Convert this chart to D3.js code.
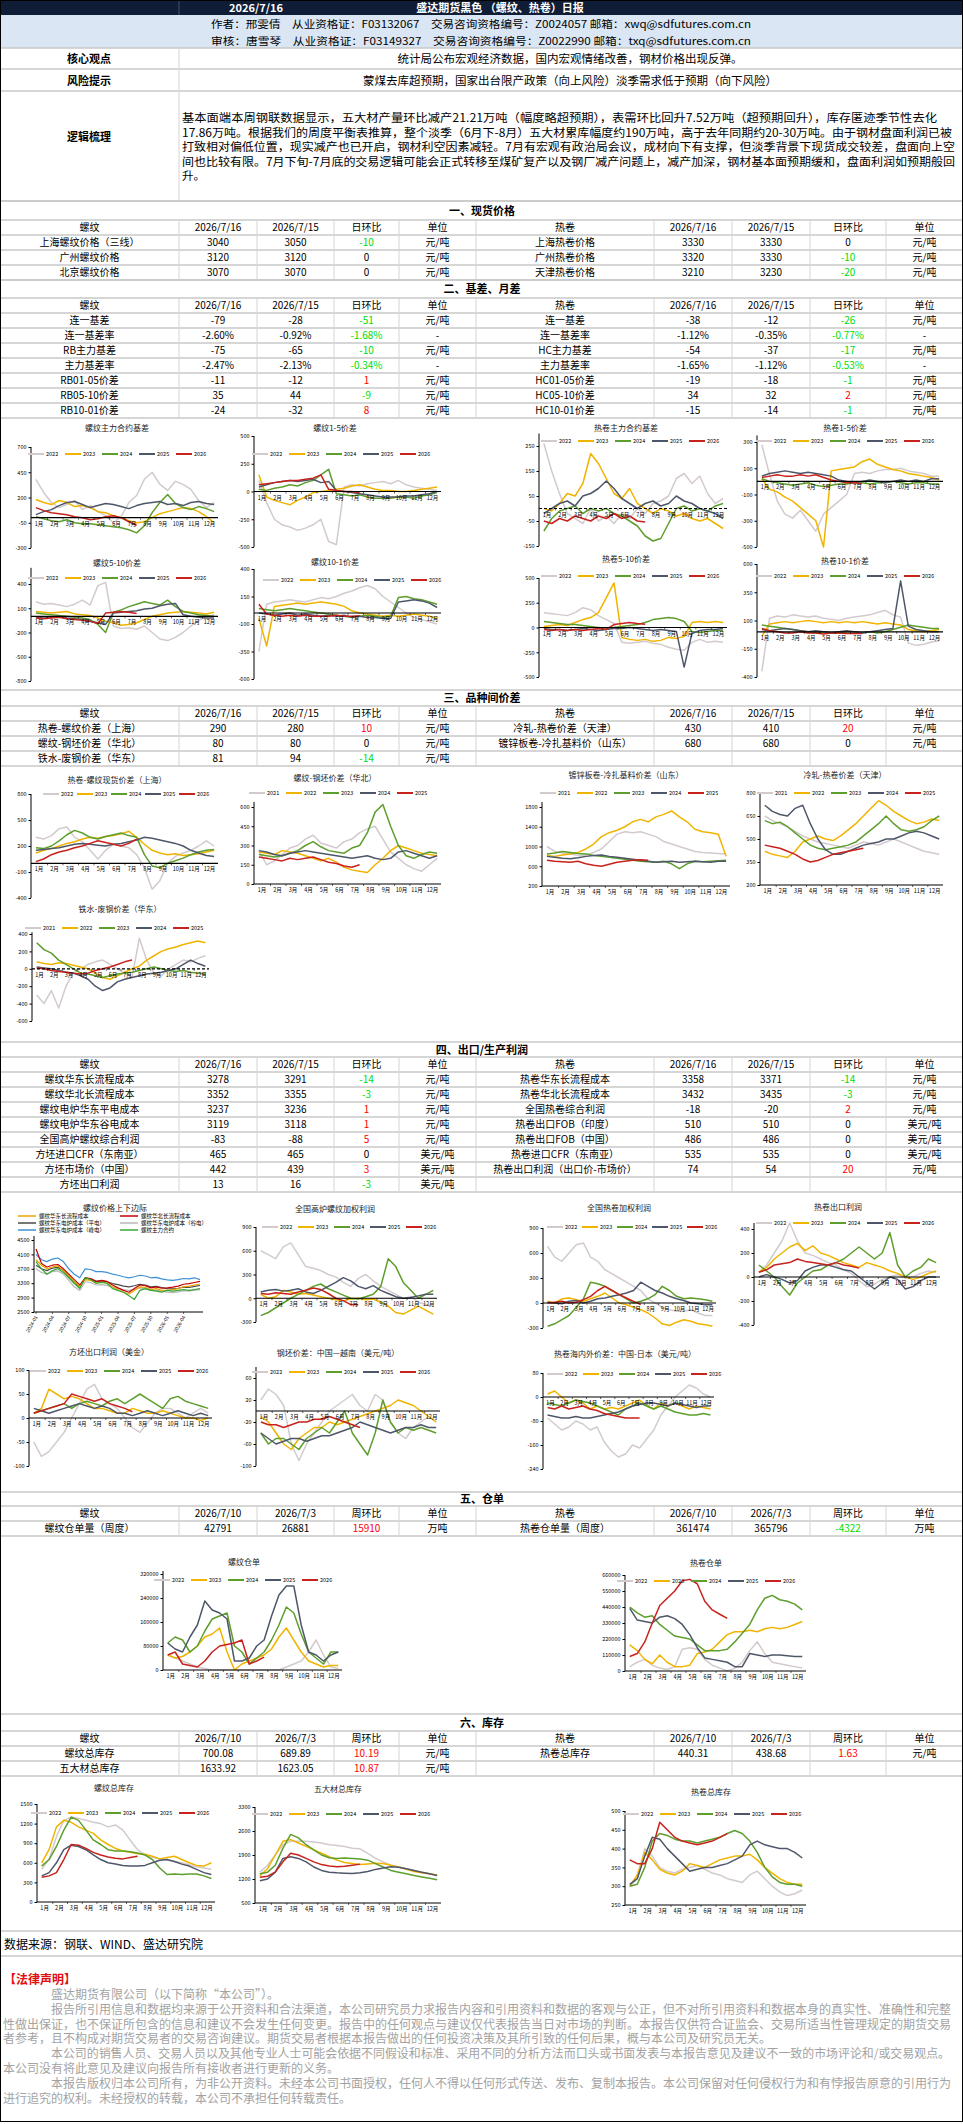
<!DOCTYPE html>
<html>
<head>
<meta charset="utf-8">
<script src="https://cdn.jsdelivr.net/npm/d3@7"></script>
<style>
body{margin:0;background:#fff;}
svg{display:block;}
</style>
</head>
<body>
<svg id="page"></svg>
<script>
const page_w = 963
const page_h = 2124
const col_x = [0,179,257,334,399,476,654,732,810,886,963]
const row_h = 15
const font_main = '"Noto Sans CJK SC","Noto Sans",sans-serif'

const years_a = ["2022","2023","2024","2025","2026"]
const years_b = ["2021","2022","2023","2024","2025"]
const year_colors = ["#d3cace","#f0b400","#5e9e2d","#4e5769","#c8221d"]
const months = ["1月","2月","3月","4月","5月","6月","7月","8月","9月","10月","11月","12月"]

// ---- tables ----
const header_day = ["螺纹","2026/7/16","2026/7/15","日环比","单位","热卷","2026/7/16","2026/7/15","日环比","单位"]
const header_week = ["螺纹","2026/7/10","2026/7/3","周环比","单位","热卷","2026/7/10","2026/7/3","周环比","单位"]
const spot_rows = [
  ["上海螺纹价格（三线）","3040","3050","-10","元/吨","上海热卷价格","3330","3330","0","元/吨"],
  ["广州螺纹价格","3120","3120","0","元/吨","广州热卷价格","3320","3330","-10","元/吨"],
  ["北京螺纹价格","3070","3070","0","元/吨","天津热卷价格","3210","3230","-20","元/吨"]]
const basis_rows = [
  ["连一基差","-79","-28","-51","元/吨","连一基差","-38","-12","-26","元/吨"],
  ["连一基差率","-2.60%","-0.92%","-1.68%","-","连一基差率","-1.12%","-0.35%","-0.77%","-"],
  ["RB主力基差","-75","-65","-10","元/吨","HC主力基差","-54","-37","-17","元/吨"],
  ["主力基差率","-2.47%","-2.13%","-0.34%","-","主力基差率","-1.65%","-1.12%","-0.53%","-"],
  ["RB01-05价差","-11","-12","1","元/吨","HC01-05价差","-19","-18","-1","元/吨"],
  ["RB05-10价差","35","44","-9","元/吨","HC05-10价差","34","32","2","元/吨"],
  ["RB10-01价差","-24","-32","8","元/吨","HC10-01价差","-15","-14","-1","元/吨"]]
const spread_rows = [
  ["热卷-螺纹价差（上海）","290","280","10","元/吨","冷轧-热卷价差（天津）","430","410","20","元/吨"],
  ["螺纹-钢坯价差（华北）","80","80","0","元/吨","镀锌板卷-冷扎基料价（山东）","680","680","0","元/吨"],
  ["铁水-废钢价差（华东）","81","94","-14","元/吨","","","","",""]]
const profit_rows = [
  ["螺纹华东长流程成本","3278","3291","-14","元/吨","热卷华东长流程成本","3358","3371","-14","元/吨"],
  ["螺纹华北长流程成本","3352","3355","-3","元/吨","热卷华北长流程成本","3432","3435","-3","元/吨"],
  ["螺纹电炉华东平电成本","3237","3236","1","元/吨","全国热卷综合利润","-18","-20","2","元/吨"],
  ["螺纹电炉华东谷电成本","3119","3118","1","元/吨","热卷出口FOB（印度）","510","510","0","美元/吨"],
  ["全国高炉螺纹综合利润","-83","-88","5","元/吨","热卷出口FOB（中国）","486","486","0","美元/吨"],
  ["方坯进口CFR（东南亚）","465","465","0","美元/吨","热卷进口CFR（东南亚）","535","535","0","美元/吨"],
  ["方坯市场价（中国）","442","439","3","美元/吨","热卷出口利润（出口价-市场价）","74","54","20","元/吨"],
  ["方坯出口利润","13","16","-3","美元/吨","","","","",""]]
const receipt_rows = [
  ["螺纹仓单量（周度）","42791","26881","15910","万吨","热卷仓单量（周度）","361474","365796","-4322","万吨"]]
const stock_rows = [
  ["螺纹总库存","700.08","689.89","10.19","元/吨","热卷总库存","440.31","438.68","1.63","元/吨"],
  ["五大材总库存","1633.92","1623.05","10.87","元/吨","","","","",""]]

// ---- chart series (half-month points) ----
const rb_basis = [
  [380,250,150,100,130,170,80,120,60,20,-50,10,150,220,380,450,330,270,360,330,280,170,100,150],
  [180,150,130,170,150,110,120,100,60,50,20,0,-30,-50,-40,0,40,60,80,100,90,60,10,-50],
  [10,-10,-30,-40,-20,-50,-60,-60,-70,-80,-90,-100,-120,-150,-80,50,150,230,140,100,80,110,90,60],
  [30,60,80,120,150,160,130,100,120,140,130,110,90,120,140,150,160,130,140,120,150,160,140,130],
  [100,70,50,40,30,10,0,-20,-10,10,20,0,-40,-75]]
const rb_15 = [
  [100,-100,-250,-300,-320,-350,-330,-300,-250,-450,-480,40,60,50,70,80,90,70,100,60,40,30,20,10],
  [150,-50,-80,-100,-120,-80,-50,-10,0,10,20,30,50,60,40,20,10,10,0,0,10,20,30,40],
  [20,10,30,40,60,50,80,100,150,200,-20,-30,-40,-30,-50,-60,-60,-60,-50,-50,-60,-40,-30,-10],
  [40,60,80,90,100,90,100,110,80,90,10,0,-10,-20,-30,-40,-50,-50,-50,-40,-40,-30,-20,0],
  [60,70,80,90,100,100,110,120,150,20,10,0,0,-11]]
const hc_basis = [
  [260,150,60,-20,-40,-60,0,-50,-30,-60,-20,-40,0,-20,20,30,50,120,140,100,130,60,20,40],
  [0,-10,20,60,50,100,220,180,120,60,40,80,20,0,-20,0,-10,-30,-20,-40,-50,-40,-60,-80],
  [-90,-40,-10,0,10,-20,0,-10,0,-20,-30,-50,-70,-110,-130,-120,-60,0,10,-10,0,-10,10,20],
  [-20,0,20,30,10,50,60,80,110,80,40,20,0,20,30,10,20,50,30,20,0,-10,-20,-40],
  [-50,-60,-40,-50,-30,-40,-50,-30,-40,-20,-40,-30,-50,-54]]
const hc_15 = [
  [280,50,-150,-250,-280,-220,-300,-380,-250,-200,-150,-100,60,70,60,80,90,90,100,80,70,60,40,40],
  [20,-60,-80,-120,-150,-200,-250,-300,-500,80,90,100,110,150,170,130,110,90,80,60,50,40,30,10],
  [20,0,-10,-20,-30,-20,-10,-30,-40,-30,-20,-20,-10,-10,-20,-10,-10,0,-10,-20,-10,-10,-20,-20],
  [40,60,70,80,70,60,70,60,50,40,10,0,-10,0,10,0,-10,0,10,0,10,0,20,20],
  [30,40,50,40,40,50,40,50,30,10,0,-10,-10,-19]]
const rb_510 = [
  [180,150,160,140,120,150,200,140,380,420,-120,-150,-140,-160,-120,-200,-280,-300,-260,-200,-120,-50,-10,20],
  [60,50,40,50,60,30,20,10,-20,-60,-80,-110,-100,-80,-40,0,20,40,50,60,50,40,30,50],
  [40,30,20,10,0,-10,-20,-40,-100,-200,50,80,120,150,180,160,140,200,120,60,40,20,10,0],
  [-10,-20,-10,0,-20,-30,-40,-60,-80,-100,40,50,60,70,90,100,130,150,160,20,0,-10,-20,-20],
  [-20,-30,-20,-10,-30,-40,-50,-60,-90,40,50,60,50,35]]
const rb_101 = [
  [-350,80,100,110,120,110,100,120,140,130,150,180,200,230,250,220,150,100,50,0,-40,-60,-80,-100],
  [-50,-300,60,70,80,90,80,90,100,90,80,60,20,0,-10,-20,-30,-20,-30,-20,-10,-20,-30,-50],
  [40,30,20,30,40,30,20,10,0,-10,-20,-30,-40,-30,-20,-30,-40,-30,140,150,130,120,100,80],
  [0,-10,-20,-10,0,-20,-10,-20,-30,-20,-30,-20,-40,-30,-40,-40,-50,-50,100,110,120,110,90,50],
  [80,-10,-20,-30,-20,-30,-20,-30,-30,-30,-20,-30,-30,-24]]
const hc_510 = [
  [150,140,130,120,150,200,180,120,80,40,-150,-160,-150,-140,-160,-170,-200,-220,-230,-150,-120,-150,-140,-150],
  [10,20,30,20,50,80,100,150,300,450,-100,-120,-130,-120,-140,-130,-100,-110,-90,50,60,50,60,50],
  [60,50,40,30,30,20,10,0,-10,0,10,20,30,50,80,90,100,90,60,-40,-50,-40,-30,-30],
  [-10,-20,-20,-30,-20,-10,-20,-30,-20,-10,-10,0,-10,-20,-30,-20,-30,-40,-400,-60,-30,-20,-20,-10],
  [-20,-30,-20,-30,-20,-30,-20,-10,-20,30,40,50,40,34]]
const hc_101 = [
  [-350,120,140,130,150,140,130,140,120,110,100,120,130,140,150,170,190,150,130,-100,-120,-110,-90,-80],
  [-40,70,80,90,80,90,100,90,80,90,80,90,80,90,80,70,80,70,60,20,10,0,10,20],
  [60,50,40,30,20,10,0,-10,0,-10,-10,0,0,-10,0,-10,0,20,40,60,50,40,30,30],
  [20,10,20,30,20,10,0,10,0,-10,0,10,0,-10,0,10,20,30,450,50,20,10,0,0],
  [30,10,0,-10,-10,0,-10,-10,-20,-10,-10,-15,-15,-15]]

const hc_rb_spot = [
  [300,280,320,400,420,300,250,150,50,150,220,200,180,100,-50,-300,-200,0,80,120,150,200,260,200],
  [120,150,170,200,230,250,280,300,290,310,320,340,370,300,220,150,120,100,110,90,100,110,130,150],
  [180,170,200,260,330,380,350,300,280,310,330,350,320,300,100,-30,-50,0,30,60,100,130,150,160],
  [150,160,170,180,200,220,230,220,210,200,220,230,250,270,300,290,270,250,230,200,150,120,90,80],
  [20,50,100,130,150,180,200,230,260,240,220,200,230,280]]
const rb_billet = [
  [260,150,180,230,280,300,350,380,320,300,280,330,350,400,430,450,350,250,200,150,120,100,150,200],
  [250,240,230,260,250,240,220,200,180,200,170,130,110,100,90,150,200,260,300,280,260,240,230,220],
  [230,220,210,220,240,260,300,330,290,260,250,240,280,300,400,560,620,450,300,220,200,230,250,240],
  [260,250,230,220,240,250,260,250,240,230,220,210,200,210,220,200,190,200,250,260,240,220,200,220],
  [210,200,190,180,200,190,200,210,190,170,160,140,130,150]]
const galv_spread = [
  [1000,900,870,850,820,830,880,950,1100,1250,1300,1280,1300,1250,1200,1100,1050,1000,950,900,880,870,860,850],
  [820,800,830,850,880,950,1050,1200,1280,1330,1400,1500,1550,1500,1600,1650,1720,1600,1500,1350,1300,1280,1250,800],
  [850,870,900,880,860,850,820,800,780,760,740,720,700,690,680,700,650,550,650,700,690,700,710,720],
  [800,780,760,750,770,800,820,830,800,780,760,740,720,700,680,690,700,680,690,700,690,680,700,700],
  [720,700,690,680,700,650,620,600,640,680,700,720,730,720]]
const cr_hc = [
  [650,620,600,580,550,520,500,480,470,460,450,440,460,480,470,460,480,500,480,460,440,420,410,400],
  [420,400,390,380,420,480,500,520,500,490,520,560,600,650,700,750,720,680,650,620,600,610,630,620],
  [620,600,610,580,540,500,460,440,430,440,450,460,480,520,560,600,650,600,560,550,560,580,620,650],
  [720,680,660,650,700,720,600,500,430,400,400,420,440,460,470,480,500,500,520,540,550,540,520,500],
  [460,450,440,420,400,370,350,360,380,400,410,420,430,440]]
const iron_scrap = [
  [-300,-400,-250,-450,-200,-50,0,50,80,100,50,0,-50,-100,350,100,-50,-80,0,50,100,80,120,150],
  [80,60,50,70,60,40,20,0,-50,-100,-120,-80,-40,0,30,100,150,200,230,250,280,300,320,300],
  [300,220,180,100,50,0,-50,-60,-80,-100,-80,-60,-50,-40,-20,0,20,0,-20,-30,-20,-40,-50,-60],
  [20,10,0,-20,-40,-50,-80,-120,-200,-250,-220,-150,-120,-100,-80,-60,-50,-40,-20,0,50,100,60,30],
  [10,0,-20,-30,-40,-50,-60,-50,-20,0,20,50,80,100]]

// monthly, 2024-01 .. 2026-07
const cost_dates = ["2024-01","2024-04","2024-07","2024-10","2025-01","2025-04","2025-07","2025-10","2026-01","2026-04"]
const cost_east_bf = [3950,3800,3700,3750,3780,3650,3500,3350,3200,3400,3380,3300,3330,3300,3200,3120,3050,3000,3100,3200,3180,3120,3150,3100,3100,3120,3150,3200,3220,3250,3278]
const cost_north_bf = [4250,3850,3750,3800,3820,3700,3550,3400,3250,3450,3430,3350,3380,3350,3250,3170,3100,3050,3150,3250,3230,3170,3200,3160,3170,3190,3220,3270,3290,3320,3352]
const eaf_flat = [3800,3700,3650,3720,3740,3650,3480,3300,3200,3440,3420,3350,3360,3340,3290,3260,3220,3200,3230,3270,3250,3200,3210,3180,3150,3140,3160,3190,3180,3210,3237]
const eaf_valley = [3700,3600,3550,3620,3640,3550,3380,3200,3100,3340,3320,3250,3260,3240,3190,3160,3120,3100,3130,3170,3150,3100,3110,3080,3050,3040,3060,3090,3080,3110,3119]
const eaf_peak = [4100,3950,3900,3970,4000,3900,3700,3550,3450,3700,3680,3620,3620,3600,3550,3520,3480,3450,3480,3520,3500,3450,3460,3420,3390,3380,3400,3430,3420,3450,3400]
const rb_main = [3900,3700,3550,3650,3700,3600,3450,3300,3150,3450,3400,3300,3320,3300,3150,3100,3050,2950,2850,3100,3150,3100,3080,3050,3100,3080,3100,3120,3100,3120,3150]
const cost_names = ["螺纹华东长流程成本","螺纹华北长流程成本","螺纹华东电炉成本（平电）","螺纹华东电炉成本（谷电）","螺纹华东电炉成本（峰电）","螺纹主力合约"]
const cost_colors = ["#e8a400","#c40000","#4a4a4a","#b8b8b8","#3d8fd6","#35a835"]

const bf_profit = [
  [600,550,500,650,700,550,400,380,350,300,270,200,150,250,300,220,150,100,50,0,20,-50,-80,-100],
  [50,0,20,100,80,50,60,40,20,0,-20,-30,-10,0,-20,-10,-50,-100,-180,-200,-150,-100,-150,-200],
  [-220,-180,-120,-60,0,50,100,150,180,120,80,40,0,-10,20,50,150,500,400,200,100,0,50,100],
  [80,100,110,90,100,120,80,60,100,150,200,260,220,150,120,160,100,60,20,0,10,30,50,50],
  [60,50,70,60,50,80,100,130,110,60,0,-30,-80,-83]]
const hc_profit = [
  [680,550,500,600,700,720,550,500,400,350,300,250,200,150,50,0,-50,-80,-100,-100,-80,-120,-150,-150],
  [20,0,50,60,40,20,50,80,120,60,0,-20,-50,-80,-120,-180,-250,-270,-230,-200,-220,-250,-260,-280],
  [-280,-250,-200,-150,-50,50,250,230,200,150,100,50,0,20,50,100,200,150,80,50,60,50,40,20],
  [10,0,-10,20,30,0,20,50,60,80,100,120,150,250,200,150,120,80,50,30,0,-10,-20,-20],
  [0,10,20,0,10,40,80,150,200,150,100,60,20,-18]]
const hc_export = [
  [40,100,200,300,450,300,200,180,150,120,100,60,30,-30,-80,-60,-20,0,20,-10,0,30,50,40],
  [40,80,150,200,250,280,220,260,200,180,150,120,100,80,120,100,80,50,30,0,-20,0,30,50],
  [100,50,0,-80,-150,-50,0,50,60,100,120,150,200,250,200,150,200,370,100,0,50,80,150,120],
  [0,20,0,-20,-50,-30,50,80,100,100,80,60,50,0,-50,-100,-50,0,-20,-100,-80,-30,0,0],
  [40,60,100,110,120,150,130,120,110,100,120,100,90,74]]
const billet_export = [
  [-50,-80,-70,-50,-30,0,30,60,70,40,30,20,0,-20,-30,-10,10,20,20,10,0,10,20,10],
  [10,20,60,50,40,45,40,30,20,20,15,10,10,20,15,10,10,15,10,5,0,0,-5,0],
  [10,15,20,25,30,20,30,35,30,25,35,40,30,40,50,40,30,20,40,45,35,30,25,20],
  [20,15,10,15,20,25,30,25,20,25,20,10,10,5,10,15,10,5,10,15,10,5,10,5],
  [10,15,20,25,30,50,45,40,35,40,30,25,20,13]]
const billet_cn_vn = [
  [20,40,30,10,-60,-90,-60,-40,-20,0,10,20,30,10,0,30,20,-20,-40,-50,-30,-20,-10,-20],
  [-10,-20,-40,-60,-70,-50,-40,-30,-30,-20,-25,-20,-15,-10,-5,0,5,10,20,15,10,0,-10,-20],
  [-40,-60,-50,-50,-60,-70,-50,-40,-30,-40,-20,0,-40,-60,-80,-40,20,-20,-40,-30,-35,-30,-35,-40],
  [-40,-50,-60,-55,-50,-50,-55,-50,-45,-45,-40,-35,-30,-20,-25,-30,-35,-40,-35,-30,-30,-25,-30,-30],
  [-20,-25,-25,-30,-25,-20,-20,-15,-15,-10,-15,-20,-25,-30]]
const hc_cn_jp = [
  [-70,-90,-110,-100,-80,-90,-110,-100,-150,-180,-200,-190,-160,-170,-140,-110,-60,-30,0,20,40,30,10,0],
  [10,20,0,-20,-10,-20,-40,-30,-40,-35,-40,-30,-20,-10,-30,-40,-20,-30,-20,-30,-40,-30,-35,-40],
  [-20,-25,-30,-20,-10,-15,-20,-30,-40,-50,-60,-40,-30,-20,-30,-40,-30,-40,-50,-55,-60,-60,-55,-60],
  [-60,-65,-70,-70,-65,-70,-70,-65,-60,-55,-50,-40,-30,-25,-20,-20,-25,-30,-20,-25,-30,-35,-30,-30],
  [-35,-40,-30,-40,-35,-30,-40,-45,-55,-60,-65,-70,-70,-70]]

const rb_receipt = [
  [50000,40000,30000,20000,10000,5000,0,0,0,0,0,0,0,0,0,0,10000,20000,30000,60000,100000,50000,10000,5000],
  [50000,40000,45000,60000,80000,110000,120000,140000,60000,0,20000,30000,40000,50000,70000,110000,140000,100000,60000,30000,20000,10000,15000,15000],
  [90000,110000,100000,60000,80000,130000,170000,180000,190000,80000,60000,20000,40000,60000,100000,150000,210000,190000,120000,60000,40000,20000,60000,60000],
  [90000,70000,60000,110000,150000,230000,200000,190000,170000,30000,30000,40000,80000,100000,180000,250000,280000,280000,150000,60000,50000,30000,50000,60000],
  [50000,60000,20000,15000,10000,30000,60000,80000,85000,90000,100000,20000,30000,42791]]
const hc_receipt = [
  [30000,60000,80000,40000,20000,10000,30000,150000,160000,150000,80000,40000,20000,0,20000,60000,140000,200000,120000,60000,50000,40000,30000,20000],
  [180000,140000,80000,50000,110000,60000,30000,30000,40000,120000,130000,150000,200000,250000,270000,270000,280000,270000,290000,300000,290000,300000,320000,340000],
  [440000,400000,370000,380000,320000,280000,240000,230000,220000,180000,140000,140000,140000,150000,200000,260000,320000,420000,500000,520000,490000,480000,460000,420000],
  [430000,350000,340000,330000,370000,380000,360000,320000,250000,160000,90000,80000,70000,60000,30000,30000,120000,110000,100000,110000,110000,105000,100000,100000],
  [100000,120000,200000,330000,450000,500000,550000,620000,630000,600000,480000,420000,390000,361474]]

const rb_stock = [
  [500,650,1000,1250,1300,1280,1250,1220,1200,1150,1180,1100,950,800,720,680,660,640,620,600,570,540,520,500],
  [600,800,1150,1250,1220,1150,1100,1050,950,880,820,780,760,740,730,700,660,680,700,650,600,560,550,600],
  [550,650,850,1100,1300,1250,1100,950,880,800,780,780,770,750,720,650,520,420,430,420,430,430,400,360],
  [400,450,600,800,870,850,800,720,650,600,580,560,550,550,560,600,640,650,620,580,550,500,450,420],
  [380,400,450,650,880,870,820,760,720,690,670,660,680,700]]
const five_stock = [
  [1400,1600,1900,2200,2300,2300,2300,2280,2250,2200,2180,2150,2100,2080,1950,1800,1700,1600,1550,1500,1450,1400,1350,1300],
  [1300,1500,1900,2300,2350,2250,2150,2050,1950,1850,1750,1680,1650,1620,1640,1660,1650,1600,1550,1480,1420,1380,1350,1320],
  [1350,1400,1600,2100,2500,2400,2200,2050,1900,1820,1800,1810,1800,1780,1750,1650,1550,1450,1400,1350,1300,1260,1220,1180],
  [1150,1200,1400,1800,1850,1800,1700,1550,1450,1400,1380,1370,1360,1380,1420,1480,1520,1560,1540,1500,1450,1400,1350,1300],
  [1250,1280,1400,1700,1950,1900,1800,1700,1620,1580,1560,1570,1600,1634]]
const hc_stock = [
  [300,320,400,380,350,340,335,345,350,355,345,335,330,320,315,310,330,340,320,300,285,275,280,290],
  [300,330,390,370,345,335,330,340,360,355,350,360,370,375,380,380,385,370,350,335,320,310,305,305],
  [300,305,350,420,440,435,425,420,420,415,420,425,430,440,448,440,420,390,350,325,310,305,305,300],
  [305,320,380,430,425,400,380,360,340,345,350,350,355,360,370,380,410,420,410,405,400,400,390,375],
  [370,360,360,400,470,450,430,420,415,410,415,420,430,440]]

const logic_lines = [
  "基本面端本周钢联数据显示，五大材产量环比减产21.21万吨（幅度略超预期），表需环比回升7.52万吨（超预期回升），库存匿迹季节性去化",
  "17.86万吨。根据我们的周度平衡表推算，整个淡季（6月下-8月）五大材累库幅度约190万吨，高于去年同期约20-30万吨。由于钢材盘面利润已被",
  "打致相对偏低位置，现实减产也已开启，钢材利空因素减轻。7月有宏观有政治局会议，成材向下有支撑，但淡季背景下现货成交较差，盘面向上空",
  "间也比较有限。7月下旬-7月底的交易逻辑可能会正式转移至煤矿复产以及钢厂减产问题上，减产加深，钢材基本面预期缓和，盘面利润如预期般回",
  "升。"]
const legal_lines = [
  "盛达期货有限公司（以下简称“本公司”）。",
  "报告所引用信息和数据均来源于公开资料和合法渠道，本公司研究员力求报告内容和引用资料和数据的客观与公正，但不对所引用资料和数据本身的真实性、准确性和完整",
  "性做出保证，也不保证所包含的信息和建议不会发生任何变更。报告中的任何观点与建议仅代表报告当日对市场的判断。本报告仅供符合证监会、交易所适当性管理规定的期货交易",
  "者参考，且不构成对期货交易者的交易咨询建议。期货交易者根据本报告做出的任何投资决策及其所引致的任何后果，概与本公司及研究员无关。",
  "本公司的销售人员、交易人员以及其他专业人士可能会依据不同假设和标准、采用不同的分析方法而口头或书面发表与本报告意见及建议不一致的市场评论和/或交易观点。",
  "本公司没有将此意见及建议向报告所有接收者进行更新的义务。",
  "本报告版权归本公司所有，为非公开资料。未经本公司书面授权，任何人不得以任何形式传送、发布、复制本报告。本公司保留对任何侵权行为和有悖报告原意的引用行为",
  "进行追究的权利。未经授权的转载，本公司不承担任何转载责任。"]

const svg = d3.select("#page")
    .attr("width", page_w)
    .attr("height", page_h)
    .attr("font-family", font_main)

svg.append("rect").attr("width", page_w).attr("height", page_h).attr("fill", "#fff")

function txt(x, y, s, size, anchor, fill, weight){
    return svg.append("text")
        .attr("x", x).attr("y", y)
        .attr("font-size", size)
        .attr("text-anchor", anchor || "start")
        .attr("fill", fill || "#000")
        .attr("font-weight", weight || "normal")
        .text(s)
}
function hline(y, color, w){
    svg.append("line")
        .attr("x1", 0).attr("x2", page_w)
        .attr("y1", y).attr("y2", y)
        .attr("stroke", color || "#c9c9c9")
        .attr("stroke-width", w || 1.5)
}
function vline(x, y0, y1, color){
    svg.append("line")
        .attr("x1", x).attr("x2", x)
        .attr("y1", y0).attr("y2", y1)
        .attr("stroke", color || "#d4d4d4")
        .attr("stroke-width", 1)
}

// ---- header block ----
svg.append("rect").attr("x", 0).attr("y", 0).attr("width", page_w).attr("height", 15).attr("fill", "#0f1d36")
vline(179, 0, 15, "#44536e")
txt(256, 12, "2026/7/16", 11, "middle", "#fff", "bold")
txt(500, 12, "盛达期货黑色 （螺纹、热卷）日报", 11, "middle", "#fff", "bold")

svg.append("rect").attr("x", 0).attr("y", 15).attr("width", page_w).attr("height", 33).attr("fill", "#dae6f3")
txt(481, 28, "作者：邢雯倩　从业资格证：F03132067　交易咨询资格编号：Z0024057 邮箱：xwq@sdfutures.com.cn", 10.5, "middle")
    .attr("textLength", 540).attr("lengthAdjust", "spacingAndGlyphs")
txt(481, 45, "审核：唐雪琴　从业资格证：F03149327　交易咨询资格编号：Z0022990 邮箱：txq@sdfutures.com.cn", 10.5, "middle")
    .attr("textLength", 540).attr("lengthAdjust", "spacingAndGlyphs")

hline(48); hline(69); hline(91); hline(201)
vline(179, 48, 201)
txt(89, 63, "核心观点", 11, "middle", "#000", "bold")
txt(570, 63, "统计局公布宏观经济数据，国内宏观情绪改善，钢材价格出现反弹。", 11.5, "middle")
txt(89, 85, "风险提示", 11, "middle", "#000", "bold")
txt(570, 85, "蒙煤去库超预期，国家出台限产政策（向上风险）淡季需求低于预期（向下风险）", 11.5, "middle")
txt(89, 141, "逻辑梳理", 11, "middle", "#000", "bold")
const logic_len = [755, 770, 773, 773]
logic_lines.forEach((s, i) => {
    const t = txt(182, 122 + i*14.5, s, 11.5)
    if(i < 4) t.attr("textLength", logic_len[i]).attr("lengthAdjust", "spacingAndGlyphs")
})

// ---- tables ----
function sectionHead(y0, y1, label){
    hline(y0)
    txt(482, (y0 + y1)/2 + 4, label, 11, "middle", "#000", "bold")
}
function drawTable(top, header, rows){
    const all = [header].concat(rows)
    const centers = col_x.slice(0, -1).map((x, i) => (x + col_x[i+1]) / 2)
    hline(top)
    all.forEach((r, ri) => {
        const yb = top + ri*row_h + 11
        r.forEach((c, ci) => {
            if(c === "") return
            let fill = "#000"
            if(ri > 0 && (ci === 3 || ci === 8)){
                const v = parseFloat(c)
                fill = v > 0 ? "#ff0000" : v < 0 ? "#00dd00" : "#000"
            }
            txt(centers[ci], yb, c, 10, "middle", fill)
        })
        hline(top + (ri+1)*row_h)
    })
    col_x.slice(1, -1).forEach(x => vline(x, top, top + all.length*row_h))
    return top + all.length*row_h
}

sectionHead(201, 220, "一、现货价格")
drawTable(220, header_day, spot_rows)
sectionHead(280, 298, "二、基差、月差")
drawTable(298, header_day, basis_rows)
sectionHead(690, 706, "三、品种间价差")
drawTable(706, header_day, spread_rows)
sectionHead(1042, 1057, "四、出口/生产利润")
drawTable(1057, header_day, profit_rows)
sectionHead(1492, 1506, "五、仓单")
drawTable(1506, header_week, receipt_rows)
sectionHead(1714, 1731, "六、库存")
drawTable(1731, header_week, stock_rows)

// ---- seasonal charts ----
function yearChart(o){
    const g = svg.append("g")
    const years = o.years || years_a
    const step = o.step || 37
    const x = d3.scaleLinear().domain([0, 12]).range([o.x0 + 1, o.x1])
    const y = d3.scaleLinear().domain([o.a[0], o.b[0]]).range([o.a[1], o.b[1]])
    const base = (o.dom[0] < 0 && o.dom[1] > 0) ? 0 : o.dom[0]

    g.append("text")
        .attr("x", o.tx).attr("y", o.ty + 3)
        .attr("text-anchor", "middle")
        .attr("font-size", 8).attr("fill", "#222")
        .text(o.title)

    const ax = g.append("g")
        .attr("transform", `translate(${o.x0},0)`)
        .call(d3.axisLeft(y).tickValues(o.ticks).tickSize(2.5).tickSizeOuter(0).tickPadding(2).tickFormat(d => String(d)))
    ax.attr("font-size", 5.5).attr("font-family", font_main)
    ax.select(".domain").remove()
    g.append("line")
        .attr("x1", o.x0).attr("x2", o.x0)
        .attr("y1", y(o.dom[1])).attr("y2", y(o.dom[0]))
        .attr("stroke", "#000").attr("stroke-width", 1)

    const line = d3.line().x((d, i) => x(i*0.5 + 0.25)).y(d => y(d))
    o.data.forEach((s, si) => {
        g.append("path")
            .attr("d", line(s))
            .attr("fill", "none")
            .attr("stroke", year_colors[si])
            .attr("stroke-width", 1.5)
            .attr("stroke-linejoin", "round")
    })

    g.append("line")
        .attr("x1", o.x0).attr("x2", o.x1)
        .attr("y1", y(base)).attr("y2", y(base))
        .attr("stroke", "#000").attr("stroke-width", 1.2)
        .attr("stroke-dasharray", o.dash ? "3,2" : null)
    for(let m = 1; m < 12; m++){
        g.append("line")
            .attr("x1", x(m)).attr("x2", x(m))
            .attr("y1", y(base)).attr("y2", y(base) + 2)
            .attr("stroke", "#000").attr("stroke-width", 0.6)
    }
    months.forEach((m, i) => {
        g.append("text")
            .attr("x", x(i + 0.45)).attr("y", y(base) + 8)
            .attr("text-anchor", "middle").attr("font-size", 5.5)
            .text(m)
    })

    years.forEach((yr, i) => {
        const lx = o.lx + i*step
        g.append("line")
            .attr("x1", lx).attr("x2", lx + 16)
            .attr("y1", o.ly).attr("y2", o.ly)
            .attr("stroke", year_colors[i]).attr("stroke-width", 2)
        g.append("text")
            .attr("x", lx + 18).attr("y", o.ly + 2)
            .attr("font-size", 5.5)
            .text(yr)
    })
}

// section two
yearChart({title:"螺纹主力合约基差", tx:117, ty:428, x0:31, x1:218, a:[700,447], b:[-300,548], dom:[-300,700], ticks:[700,450,200,-50,-300], lx:28, ly:454, data:rb_basis})
yearChart({title:"螺纹1-5价差", tx:335, ty:428, x0:254, x1:441, a:[500,436], b:[-500,547], dom:[-500,500], ticks:[500,250,0,-250,-500], lx:252, ly:454, data:rb_15})
yearChart({title:"热卷主力合约基差", tx:626, ty:428, x0:539, x1:727, a:[250,446], b:[-150,546], dom:[-150,300], ticks:[250,150,50,-50,-150], lx:541, ly:441, data:hc_basis, dash:true})
yearChart({title:"热卷1-5价差", tx:845, ty:428, x0:757, x1:943, a:[300,442], b:[-500,547], dom:[-500,350], ticks:[300,100,-100,-300,-500], lx:756, ly:441, data:hc_15})
yearChart({title:"螺纹5-10价差", tx:117, ty:563, x0:31, x1:218, a:[400,584], b:[-800,681], dom:[-800,600], ticks:[400,100,-200,-500,-800], lx:28, ly:578, data:rb_510})
yearChart({title:"螺纹10-1价差", tx:335, ty:562, x0:254, x1:441, a:[400,569], b:[-600,679], dom:[-600,400], ticks:[400,150,-100,-350,-600], lx:263, ly:580, data:rb_101})
yearChart({title:"热卷5-10价差", tx:626, ty:559, x0:539, x1:727, a:[500,578], b:[-500,677], dom:[-500,500], ticks:[500,250,0,-250,-500], lx:541, ly:576, data:hc_510})
yearChart({title:"热卷10-1价差", tx:845, ty:561, x0:757, x1:943, a:[600,564], b:[-400,677], dom:[-400,600], ticks:[600,350,100,-150,-400], lx:756, ly:576, data:hc_101})

// section three
yearChart({title:"热卷-螺纹现货价差（上海）", tx:117, ty:780, x0:31, x1:218, a:[800,794], b:[-400,898], dom:[-400,800], ticks:[800,500,200,-100,-400], lx:43, ly:794, step:34, data:hc_rb_spot})
yearChart({title:"螺纹-钢坯价差（华北）", tx:335, ty:778, x0:254, x1:441, a:[600,807], b:[0,884], dom:[0,640], ticks:[600,450,300,150,0], lx:249, ly:793, years:years_b, data:rb_billet})
yearChart({title:"镀锌板卷-冷扎基料价差（山东）", tx:626, ty:775, x0:542, x1:730, a:[1800,807], b:[200,886], dom:[200,1900], ticks:[1800,1400,1000,600,200], lx:540, ly:793, years:years_b, data:galv_spread})
yearChart({title:"冷轧-热卷价差（天津）", tx:845, ty:775, x0:760, x1:943, a:[800,793], b:[200,885], dom:[200,800], ticks:[800,650,500,350,200], lx:757, ly:793, years:years_b, data:cr_hc})
yearChart({title:"铁水-废钢价差（华东）", tx:120, ty:909, x0:32, x1:209, a:[400,934], b:[-600,1021], dom:[-600,420], ticks:[400,200,0,-200,-400,-600], lx:25, ly:928, years:years_b, data:iron_scrap, dash:true})

// section four: cost chart
function costChart(){
    const g = svg.append("g")
    const x0 = 34, x1 = 203
    const x = d3.scaleLinear().domain([0, 30]).range([x0 + 2, x1 - 3])
    const y = d3.scaleLinear().domain([4500, 2500]).range([1240, 1312])

    g.append("text").attr("x", 115).attr("y", 1211).attr("text-anchor", "middle")
        .attr("font-size", 8).attr("fill", "#222").text("螺纹价格上下边际")

    const ax = g.append("g")
        .attr("transform", `translate(${x0},0)`)
        .call(d3.axisLeft(y).tickValues([4500,4100,3700,3300,2900,2500]).tickSize(2.5).tickSizeOuter(0).tickPadding(2).tickFormat(d => String(d)))
    ax.attr("font-size", 5.5).attr("font-family", font_main)
    ax.select(".domain").remove()
    g.append("line").attr("x1", x0).attr("x2", x0).attr("y1", 1236).attr("y2", y(2500))
        .attr("stroke", "#000")

    const series = [eaf_peak, eaf_valley, eaf_flat, cost_north_bf, cost_east_bf, rb_main]
    const order = [4, 3, 2, 1, 0, 5]
    const line = d3.line().x((d, i) => x(i)).y(d => y(d))
    series.forEach((s, i) => {
        g.append("path").attr("d", line(s)).attr("fill", "none")
            .attr("stroke", cost_colors[order[i]]).attr("stroke-width", 1.2)
            .attr("stroke-linejoin", "round")
    })

    g.append("line").attr("x1", x0).attr("x2", x1).attr("y1", y(2500)).attr("y2", y(2500))
        .attr("stroke", "#000").attr("stroke-width", 1)
    cost_dates.forEach((d, i) => {
        const px = x(i*3)
        g.append("line").attr("x1", px).attr("x2", px).attr("y1", y(2500)).attr("y2", y(2500) + 2)
            .attr("stroke", "#000").attr("stroke-width", 0.6)
        g.append("text")
            .attr("transform", `translate(${px + 2},${y(2500) + 5}) rotate(-60)`)
            .attr("text-anchor", "end").attr("font-size", 5)
            .text(d)
    })

    cost_names.forEach((n, i) => {
        const lx = i % 2 === 0 ? 18 : 120
        const ly = 1216 + Math.floor(i / 2) * 7
        g.append("line").attr("x1", lx).attr("x2", lx + 18).attr("y1", ly).attr("y2", ly)
            .attr("stroke", cost_colors[i]).attr("stroke-width", 1.5)
        g.append("text").attr("x", lx + 21).attr("y", ly + 2).attr("font-size", 5.5).text(n)
    })
}
costChart()

yearChart({title:"全国高炉螺纹加权利润", tx:335, ty:1209, x0:256, x1:437, a:[900,1227], b:[-300,1322], dom:[-300,900], ticks:[900,600,300,0,-300], lx:262, ly:1227, step:36, data:bf_profit})
yearChart({title:"全国热卷加权利润", tx:619, ty:1208, x0:543, x1:716, a:[900,1228], b:[-300,1328], dom:[-300,900], ticks:[900,600,300,0,-300], lx:547, ly:1227, step:35, data:hc_profit})
yearChart({title:"热卷出口利润", tx:838, ty:1207, x0:754, x1:940, a:[400,1229], b:[-400,1325], dom:[-400,450], ticks:[400,200,0,-200,-400], lx:756, ly:1223, data:hc_export})
yearChart({title:"方坯出口利润（美金）", tx:109, ty:1352, x0:29, x1:212, a:[100,1370], b:[-100,1466], dom:[-100,100], ticks:[100,50,0,-50,-100], lx:30, ly:1371, data:billet_export})
yearChart({title:"钢坯价差：中国—越南（美元/吨）", tx:338, ty:1353, x0:256, x1:440, a:[60,1378], b:[-100,1466], dom:[-100,80], ticks:[60,20,-20,-60,-100], lx:252, ly:1372, data:billet_cn_vn})
yearChart({title:"热卷海内外价差：中国-日本（美元/吨）", tx:625, ty:1354, x0:543, x1:714, a:[80,1373], b:[-240,1469], dom:[-240,80], ticks:[80,0,-80,-160,-240], lx:547, ly:1374, step:36, data:hc_cn_jp})

// section five
yearChart({title:"螺纹仓单", tx:244, ty:1562, x0:163, x1:342, a:[320000,1574], b:[0,1670], dom:[0,330000], ticks:[320000,240000,160000,80000,0], lx:154, ly:1580, data:rb_receipt})
yearChart({title:"热卷仓单", tx:706, ty:1563, x0:625, x1:806, a:[660000,1575], b:[0,1671], dom:[0,660000], ticks:[660000,550000,440000,330000,220000,110000,0], lx:617, ly:1581, data:hc_receipt})

// section six
yearChart({title:"螺纹总库存", tx:114, ty:1788, x0:37, x1:215, a:[1500,1804], b:[0,1902], dom:[0,1500], ticks:[1500,1200,900,600,300,0], lx:31, ly:1813, data:rb_stock})
yearChart({title:"五大材总库存", tx:338, ty:1789, x0:255, x1:441, a:[3300,1807], b:[500,1903], dom:[500,3300], ticks:[3300,2600,1900,1200,500], lx:252, ly:1814, data:five_stock})
yearChart({title:"热卷总库存", tx:711, ty:1792, x0:625, x1:806, a:[500,1811], b:[250,1905], dom:[250,500], ticks:[500,450,400,350,300,250], lx:623, ly:1814, data:hc_stock})

// ---- footer ----
hline(1931); hline(1956)
txt(4, 1949, "数据来源：钢联、WIND、盛达研究院", 12)
txt(4, 1984, "【法律声明】", 12, "start", "#e01010", "bold")
const legal_x = [51, 51, 3, 3, 51, 3, 51, 3]
const legal_len = [0, 900, 948, 0, 899, 0, 900, 0]
legal_lines.forEach((s, i) => {
    const t = txt(legal_x[i], 1999 + i*14.8, s, 12, "start", "#a3a3a3")
    if(legal_len[i]) t.attr("textLength", legal_len[i]).attr("lengthAdjust", "spacingAndGlyphs")
})

svg.append("rect")
    .attr("x", 0.5).attr("y", 0.5)
    .attr("width", page_w - 1).attr("height", page_h - 3)
    .attr("fill", "none").attr("stroke", "#000").attr("stroke-width", 1)
</script>
</body>
</html>
